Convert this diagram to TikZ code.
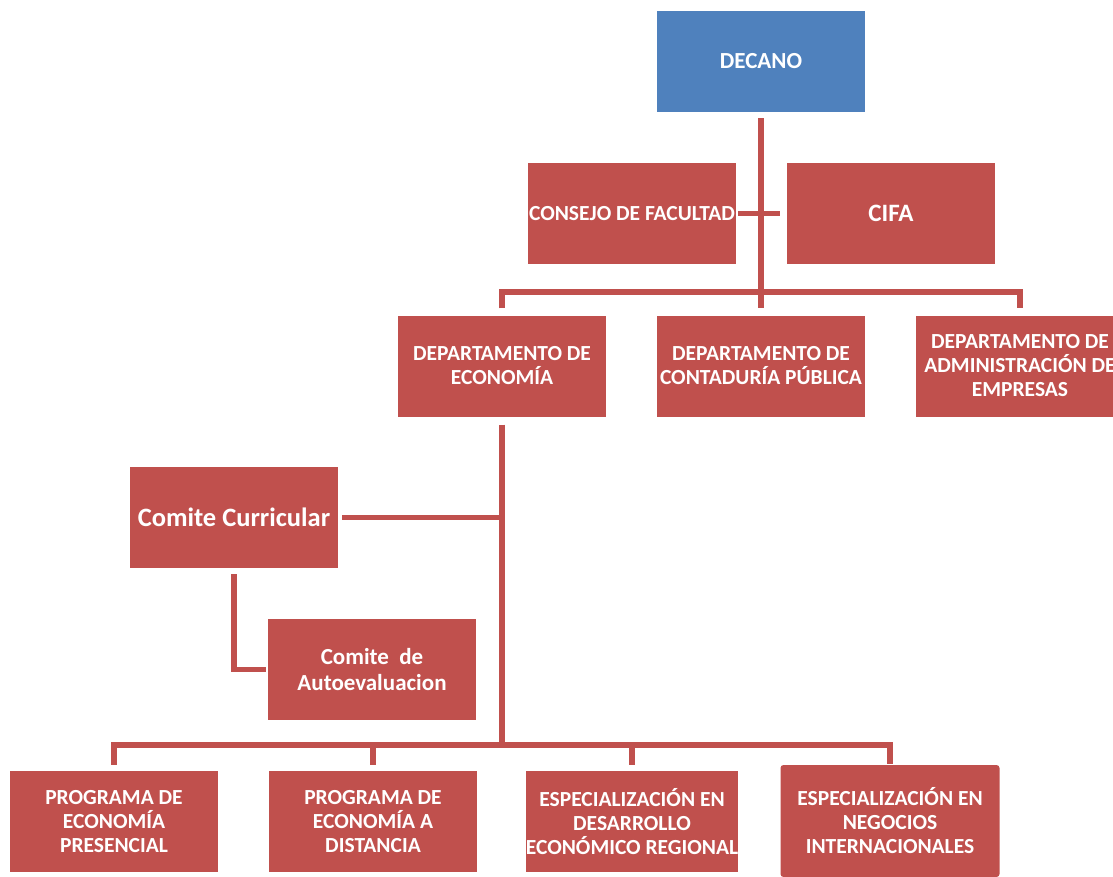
\documentclass[tikz,border=0pt]{standalone}
\usepackage{fontspec}
\setmainfont{Carlito}
\usetikzlibrary{calc}

\definecolor{boxred}{HTML}{C0504D}
\definecolor{boxblue}{HTML}{4F81BD}

\tikzset{
	unit/.style={fill=boxred, text=white, font=\bfseries\fontsize{21.5}{24}\selectfont,
		align=center, minimum width=208pt, minimum height=101pt, inner sep=0pt},
	dean/.style={unit, fill=boxblue, font=\bfseries\fontsize{23}{26}\selectfont},
	link/.style={draw=boxred, line width=5.5pt},
}

\begin{document}
\begin{tikzpicture}[x=1pt, y=-1pt]
	\useasboundingbox (0,0) rectangle (1113,876);

	\node[dean] (decano) at (761,61.5) {DECANO};
	\node[unit] (consejo) at (632,213.5) {CONSEJO DE FACULTAD};
	\node[unit, font=\bfseries\fontsize{25}{30}\selectfont] (cifa) at (891,213.5) {CIFA};

	\node[unit] (depeco) at (502,366) {DEPARTAMENTO DE\\ECONOMÍA};
	\node[unit] (depcont) at (761,366) {DEPARTAMENTO DE\\CONTADURÍA PÚBLICA};
	\node[unit] (depadm) at (1020,366) {DEPARTAMENTO DE\\ADMINISTRACIÓN DE\\EMPRESAS};

	\node[unit, font=\bfseries\fontsize{26.5}{30}\selectfont] (curricular) at (234,517.5) {Comite Curricular};
	\node[unit, font=\bfseries\fontsize{23}{26}\selectfont] (autoeval) at (372,669.5) {Comite \ de\\Autoevaluacion};

	\node[unit] (presencial) at (114,821.5) {PROGRAMA DE\\ECONOMÍA\\PRESENCIAL};
	\node[unit] (distancia) at (373,821.5) {PROGRAMA DE\\ECONOMÍA A\\DISTANCIA};
	\node[unit] (desarrollo) at (632,821.5) {ESPECIALIZACIÓN EN\\DESARROLLO\\ECONÓMICO REGIONAL};
	\node[unit, minimum width=219pt, minimum height=112pt, rounded corners=3pt] (negocios) at (890,821) {ESPECIALIZACIÓN EN\\NEGOCIOS\\INTERNACIONALES};

	\coordinate (topbar) at (761,292);
	\coordinate (botbar) at (502,745);

	\draw[link, shorten <=6pt, shorten >=7pt] (decano.south) -- (depcont.north);
	\draw[link, shorten <=2pt, shorten >=7pt] (consejo.east) -- (cifa.west);
	\draw[link, shorten <=7pt, shorten >=7pt] (depeco.north) |- (topbar) -| (depadm.north);
	\draw[link, shorten <=8pt] (depeco.south) -- (botbar);
	\draw[link, shorten <=4pt] (curricular.east) -- (curricular.east -| botbar);
	\draw[link, shorten <=6pt, shorten >=2pt] (curricular.south) |- (autoeval.west);
	\draw[link, shorten <=6pt, shorten >=1pt] (presencial.north) |- (botbar) -| (negocios.north);
	\draw[link, shorten <=6pt] (distancia.north) -- (distancia.north |- botbar);
	\draw[link, shorten <=6pt] (desarrollo.north) -- (desarrollo.north |- botbar);
\end{tikzpicture}
\end{document}
